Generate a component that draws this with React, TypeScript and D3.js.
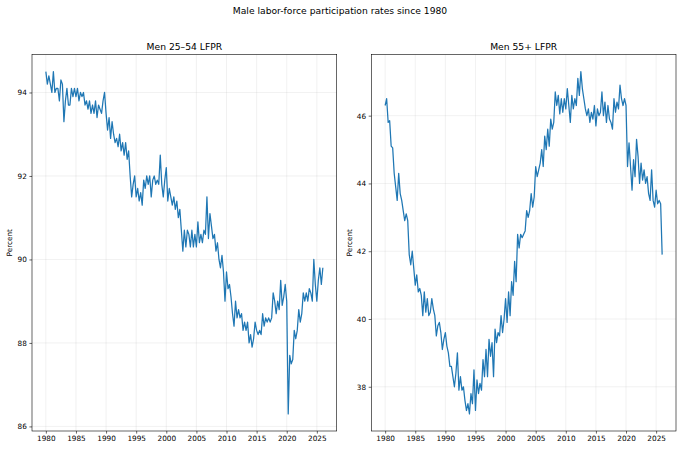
import React, { useRef, useEffect } from 'react';
import * as d3 from 'd3';

// quarterly readings, Q1 1980 through Q1 2026
const startYear = 1980;
const stepYears = 0.25;

const prime: number[] = [
    94.5, 94.2, 94.4, 94.2,
    94.0, 94.5, 94.0, 94.1,
    94.1, 93.8, 94.3, 94.2,
    93.3, 93.8, 94.1, 93.7,
    93.7, 94.1, 93.9, 94.1,
    93.9, 94.1, 93.8, 94.0,
    93.9, 94.0, 93.7, 93.8,
    93.6, 93.8, 93.5, 93.7,
    93.5, 93.8, 93.4, 93.7,
    93.6, 93.5, 93.8, 94.0,
    93.5, 93.1, 93.4, 92.9,
    93.3, 93.0, 92.8, 92.9,
    92.7, 93.0, 92.6, 92.8,
    92.5, 92.8, 92.4, 92.6,
    92.0, 91.5, 91.8, 92.0,
    91.5, 91.7, 91.4, 91.6,
    91.3, 91.9, 91.7, 92.0,
    91.8, 92.0, 91.5, 91.9,
    92.0, 91.8, 91.9, 91.8,
    92.5, 91.8, 91.5, 91.9,
    92.2, 91.4, 91.7, 91.5,
    91.3, 91.5, 91.2, 91.4,
    91.0, 91.2, 90.7, 90.2,
    90.7, 90.3, 90.7, 90.6,
    90.3, 90.7, 90.3, 90.6,
    90.3, 90.9, 90.4, 90.6,
    90.4, 90.7, 90.6, 91.5,
    90.5, 91.1, 90.8, 90.5,
    90.6, 90.2, 90.4, 90.0,
    89.8, 90.1, 89.7, 89.0,
    89.7, 89.3, 89.4, 89.1,
    88.7, 88.4, 89.0, 88.6,
    88.8, 88.6, 88.7, 88.3,
    88.5, 88.3, 88.5, 88.0,
    88.2, 87.9, 88.1, 88.5,
    88.3, 88.2, 88.3, 88.2,
    88.7, 88.4, 88.6, 88.5,
    88.6, 88.5, 88.6, 89.2,
    89.0, 88.7, 89.0, 88.8,
    89.5, 88.9, 89.1, 89.4,
    89.0, 86.3, 87.7, 87.5,
    87.6, 88.3, 88.1, 88.3,
    88.8, 88.5, 88.7, 89.2,
    89.0, 89.2, 89.0, 89.3,
    89.2, 89.0, 90.0, 89.4,
    89.0, 89.5, 89.8, 89.4,
    89.8,
];

const older: number[] = [
    46.3, 46.5, 45.8, 45.85,
    45.1, 45.05, 44.3, 43.9,
    43.5, 44.3, 43.7, 43.5,
    43.2, 42.9, 43.1, 42.9,
    41.9, 41.6, 42.0, 41.5,
    41.0, 41.3, 40.8, 40.9,
    40.7, 40.1, 40.8, 40.2,
    40.6, 40.1, 40.2, 40.6,
    40.3, 40.1, 39.5, 39.8,
    39.9, 39.6, 39.1, 39.4,
    39.6, 39.2, 39.0, 38.6,
    38.6, 38.3, 38.0, 38.4,
    39.0, 37.9, 38.3, 37.9,
    38.0, 37.6, 37.3, 37.5,
    37.2, 37.8, 37.5, 38.5,
    37.3, 38.2, 37.8, 38.1,
    37.9, 38.8, 38.3, 39.1,
    38.3, 39.4, 38.9, 39.3,
    38.3, 39.7, 39.3, 39.6,
    39.5, 40.1, 39.6, 40.0,
    40.6, 39.9, 40.8, 40.1,
    41.1, 40.7, 41.7, 41.1,
    42.5, 42.1, 42.5, 42.4,
    42.5, 42.6, 43.2, 43.0,
    43.2, 43.7, 43.3, 43.6,
    44.5, 44.2, 44.4, 44.6,
    45.0, 44.5, 45.4, 45.0,
    45.6, 45.1, 45.9, 45.6,
    45.8, 46.7, 46.3, 46.6,
    46.05, 46.5, 46.1, 46.5,
    46.2, 46.8, 46.3, 45.8,
    46.6, 46.2, 46.5, 46.3,
    47.1, 46.6, 47.3, 46.8,
    46.5, 46.2, 46.0, 46.2,
    45.8, 46.1, 45.9, 46.3,
    45.7, 46.2, 46.0, 46.1,
    46.7, 46.0, 46.4, 45.8,
    46.3, 45.9, 45.8, 45.6,
    46.5, 46.1, 46.4, 46.2,
    46.9, 46.5, 46.3, 46.5,
    46.3, 44.5, 45.2, 44.5,
    43.8, 44.7, 44.2, 45.3,
    44.8, 44.0, 44.6, 44.1,
    44.4, 44.0, 44.2, 43.7,
    43.5, 44.4, 43.5, 43.3,
    43.8, 43.4, 43.5, 43.4,
    41.9,
];

const xTicks = [1980, 1985, 1990, 1995, 2000, 2005, 2010, 2015, 2020, 2025];
const primeTicks = [86, 88, 90, 92, 94];
const olderTicks = [38, 40, 42, 44, 46];

const W = 680;
const H = 451;
const FONT = 'DejaVu Sans, sans-serif';
const tickFont = 7.3;
const titleFont = 9.2;

const panels = [
    { title: 'Men 25\u201354 LFPR', values: prime, yTicks: primeTicks, left: 32, labelX: 9 },
    { title: 'Men 55+ LFPR', values: older, yTicks: olderTicks, left: 371.3, labelX: 349 },
];

const App: React.FC = () => {
    const svgRef = useRef<SVGSVGElement | null>(null);

    useEffect(() => {
        const svg = d3.select(svgRef.current);
        svg.selectAll('*').remove();

        svg.append('rect').attr('width', W).attr('height', H).attr('fill', '#fff');

        svg.append('text')
            .attr('x', W / 2)
            .attr('y', 13.5)
            .attr('text-anchor', 'middle')
            .style('font-family', FONT)
            .style('font-size', `${titleFont}px`)
            .text('Male labor-force participation rates since 1980');

        const top = 54.5;
        const bottom = 431;
        const pw = 304.7;

        panels.forEach(p => {
            const pts = p.values.map((v, i) => ({ t: startYear + i * stepYears, v }));
            const [t0, t1] = d3.extent(pts, d => d.t) as [number, number];
            const [v0, v1] = d3.extent(pts, d => d.v) as [number, number];
            const mx = (t1 - t0) * 0.05;
            const my = (v1 - v0) * 0.05;

            const x = d3.scaleLinear().domain([t0 - mx, t1 + mx]).range([p.left, p.left + pw]);
            const y = d3.scaleLinear().domain([v0 - my, v1 + my]).range([bottom, top]);

            const g = svg.append('g');

            // grid
            g.append('g')
                .selectAll('line')
                .data(xTicks)
                .enter()
                .append('line')
                .attr('x1', d => x(d)).attr('x2', d => x(d))
                .attr('y1', top).attr('y2', bottom)
                .attr('stroke', '#b0b0b0').attr('stroke-opacity', 0.3).attr('stroke-width', 0.6);
            g.append('g')
                .selectAll('line')
                .data(p.yTicks)
                .enter()
                .append('line')
                .attr('x1', p.left).attr('x2', p.left + pw)
                .attr('y1', d => y(d)).attr('y2', d => y(d))
                .attr('stroke', '#b0b0b0').attr('stroke-opacity', 0.3).attr('stroke-width', 0.6);

            const line = d3.line<{ t: number; v: number }>().x(d => x(d.t)).y(d => y(d.v));
            g.append('path')
                .datum(pts)
                .attr('d', line)
                .attr('fill', 'none')
                .attr('stroke', '#1f77b4')
                .attr('stroke-width', 1.25)
                .attr('stroke-linejoin', 'round');

            const xAxis = g.append('g')
                .attr('transform', `translate(0,${bottom})`)
                .call(d3.axisBottom(x).tickValues(xTicks).tickFormat(d3.format('d')).tickSize(2.6).tickPadding(2.6));
            const yAxis = g.append('g')
                .attr('transform', `translate(${p.left},0)`)
                .call(d3.axisLeft(y).tickValues(p.yTicks).tickFormat(d3.format('d')).tickSize(2.6).tickPadding(2.6));

            [xAxis, yAxis].forEach(a => {
                a.select('.domain').remove();
                a.selectAll('line').attr('stroke', '#000').attr('stroke-width', 0.6);
                a.selectAll('text')
                    .attr('fill', '#000')
                    .style('font-family', FONT)
                    .style('font-size', `${tickFont}px`);
            });

            g.append('rect')
                .attr('x', p.left).attr('y', top)
                .attr('width', pw).attr('height', bottom - top)
                .attr('fill', 'none').attr('stroke', '#000').attr('stroke-width', 0.6);

            g.append('text')
                .attr('x', p.left + pw / 2)
                .attr('y', top - 4.8)
                .attr('text-anchor', 'middle')
                .style('font-family', FONT)
                .style('font-size', `${titleFont}px`)
                .text(p.title);

            g.append('text')
                .attr('transform', `translate(${p.labelX},${(top + bottom) / 2}) rotate(-90)`)
                .attr('text-anchor', 'middle')
                .attr('dy', '0.35em')
                .style('font-family', FONT)
                .style('font-size', `${tickFont}px`)
                .text('Percent');
        });
    }, []);

    return (
        <svg
            ref={svgRef}
            width={W}
            height={H}
            style={{ position: 'absolute', left: 0, top: 0, display: 'block' }}
        />
    );
};

export default App;
